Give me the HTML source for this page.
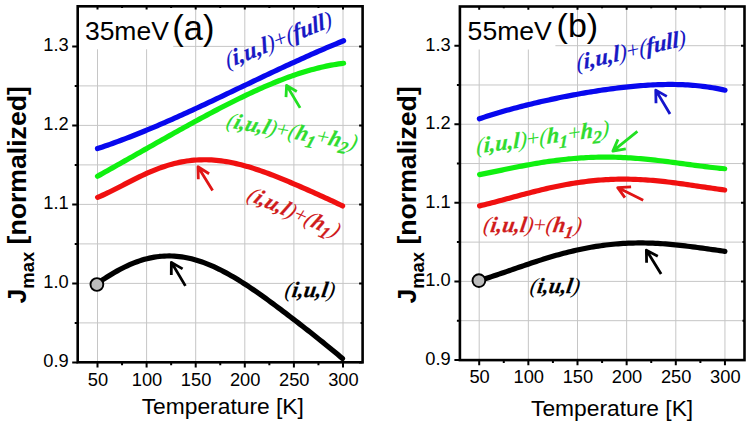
<!DOCTYPE html><html><head><meta charset="utf-8"><style>html,body{margin:0;padding:0;background:#fff;overflow:hidden}svg{display:block}</style></head><body><svg width="749" height="425" viewBox="0 0 749 425">
<rect width="749" height="425" fill="#fff"/>
<path d="M97.50,6.30V362.30 M146.60,6.30V362.30 M195.70,6.30V362.30 M244.80,6.30V362.30 M293.90,6.30V362.30 M343.00,6.30V362.30 M77.70,322.90H362.60 M77.70,283.40H362.60 M77.70,243.90H362.60 M77.70,204.40H362.60 M77.70,164.90H362.60 M77.70,125.40H362.60 M77.70,85.90H362.60 M77.70,46.40H362.60" stroke="#c6c6c6" stroke-width="1" fill="none"/>
<rect x="77.7" y="6.3" width="95.5" height="43" fill="#fff"/>
<path d="M479.20,6.50V360.10 M528.35,6.50V360.10 M577.50,6.50V360.10 M626.65,6.50V360.10 M675.80,6.50V360.10 M724.95,6.50V360.10 M459.90,320.68H744.50 M459.90,281.40H744.50 M459.90,242.11H744.50 M459.90,202.83H744.50 M459.90,163.55H744.50 M459.90,124.26H744.50 M459.90,84.97H744.50 M459.90,45.69H744.50" stroke="#c6c6c6" stroke-width="1" fill="none"/>
<rect x="459.9" y="6.5" width="95.5" height="43" fill="#fff"/>
<path d="M97.50,283.25 L99.97,281.58 L102.45,279.93 L104.92,278.32 L107.40,276.74 L109.87,275.21 L112.35,273.71 L114.82,272.27 L117.30,270.87 L119.77,269.52 L122.25,268.23 L124.72,266.99 L127.20,265.81 L129.67,264.70 L132.15,263.64 L134.62,262.65 L137.10,261.72 L139.57,260.86 L142.05,260.07 L144.52,259.34 L146.99,258.69 L149.47,258.10 L151.94,257.59 L154.42,257.14 L156.89,256.77 L159.37,256.46 L161.84,256.23 L164.32,256.07 L166.79,255.98 L169.27,255.96 L171.74,256.01 L174.22,256.13 L176.69,256.32 L179.17,256.57 L181.64,256.89 L184.12,257.28 L186.59,257.74 L189.07,258.26 L191.54,258.84 L194.02,259.49 L196.49,260.19 L198.96,260.96 L201.44,261.78 L203.91,262.66 L206.39,263.60 L208.86,264.59 L211.34,265.63 L213.81,266.72 L216.29,267.86 L218.76,269.05 L221.24,270.29 L223.71,271.57 L226.19,272.89 L228.66,274.25 L231.14,275.65 L233.61,277.09 L236.09,278.57 L238.56,280.08 L241.04,281.62 L243.51,283.19 L245.98,284.79 L248.46,286.42 L250.93,288.08 L253.41,289.76 L255.88,291.46 L258.36,293.18 L260.83,294.92 L263.31,296.69 L265.78,298.46 L268.26,300.26 L270.73,302.07 L273.21,303.89 L275.68,305.73 L278.16,307.57 L280.63,309.43 L283.11,311.30 L285.58,313.17 L288.06,315.06 L290.53,316.95 L293.01,318.85 L295.48,320.75 L297.95,322.67 L300.43,324.58 L302.90,326.51 L305.38,328.44 L307.85,330.37 L310.33,332.32 L312.80,334.27 L315.28,336.23 L317.75,338.19 L320.23,340.17 L322.70,342.15 L325.18,344.15 L327.65,346.16 L330.13,348.19 L332.60,350.23 L335.08,352.28 L337.55,354.36 L340.03,356.46 L342.50,358.58" stroke="#000" stroke-width="5.2" fill="none" stroke-linecap="round" stroke-linejoin="round"/>
<path d="M97.60,197.37 L100.07,196.34 L102.55,195.25 L105.02,194.12 L107.50,192.95 L109.97,191.74 L112.45,190.51 L114.92,189.26 L117.40,188.00 L119.87,186.72 L122.35,185.44 L124.82,184.15 L127.30,182.87 L129.77,181.60 L132.25,180.34 L134.72,179.09 L137.20,177.86 L139.67,176.66 L142.15,175.48 L144.62,174.33 L147.09,173.21 L149.57,172.12 L152.04,171.07 L154.52,170.05 L156.99,169.08 L159.47,168.15 L161.94,167.26 L164.42,166.42 L166.89,165.63 L169.37,164.88 L171.84,164.18 L174.32,163.53 L176.79,162.93 L179.27,162.38 L181.74,161.88 L184.22,161.44 L186.69,161.05 L189.17,160.71 L191.64,160.42 L194.12,160.18 L196.59,160.00 L199.06,159.86 L201.54,159.78 L204.01,159.75 L206.49,159.77 L208.96,159.84 L211.44,159.96 L213.91,160.12 L216.39,160.33 L218.86,160.59 L221.34,160.90 L223.81,161.24 L226.29,161.63 L228.76,162.06 L231.24,162.54 L233.71,163.05 L236.19,163.60 L238.66,164.18 L241.14,164.80 L243.61,165.46 L246.08,166.14 L248.56,166.86 L251.03,167.61 L253.51,168.38 L255.98,169.18 L258.46,170.01 L260.93,170.86 L263.41,171.74 L265.88,172.63 L268.36,173.55 L270.83,174.48 L273.31,175.44 L275.78,176.40 L278.26,177.39 L280.73,178.39 L283.21,179.39 L285.68,180.42 L288.16,181.45 L290.63,182.49 L293.11,183.54 L295.58,184.60 L298.05,185.67 L300.53,186.74 L303.00,187.82 L305.48,188.91 L307.95,190.00 L310.43,191.10 L312.90,192.20 L315.38,193.31 L317.85,194.42 L320.33,195.54 L322.80,196.66 L325.28,197.80 L327.75,198.93 L330.23,200.08 L332.70,201.23 L335.18,202.40 L337.65,203.57 L340.13,204.75 L342.60,205.95" stroke="#f01010" stroke-width="5.2" fill="none" stroke-linecap="round" stroke-linejoin="round"/>
<path d="M97.50,176.26 L99.99,174.87 L102.47,173.47 L104.96,172.08 L107.44,170.68 L109.93,169.28 L112.42,167.88 L114.90,166.48 L117.39,165.08 L119.87,163.68 L122.36,162.27 L124.84,160.87 L127.33,159.47 L129.82,158.06 L132.30,156.65 L134.79,155.25 L137.27,153.84 L139.76,152.43 L142.25,151.03 L144.73,149.62 L147.22,148.22 L149.70,146.81 L152.19,145.41 L154.67,144.00 L157.16,142.60 L159.65,141.20 L162.13,139.80 L164.62,138.40 L167.10,137.00 L169.59,135.61 L172.08,134.22 L174.56,132.83 L177.05,131.44 L179.53,130.06 L182.02,128.68 L184.51,127.30 L186.99,125.93 L189.48,124.56 L191.96,123.19 L194.45,121.83 L196.93,120.48 L199.42,119.13 L201.91,117.78 L204.39,116.45 L206.88,115.11 L209.36,113.79 L211.85,112.47 L214.34,111.16 L216.82,109.85 L219.31,108.55 L221.79,107.26 L224.28,105.98 L226.76,104.71 L229.25,103.45 L231.74,102.20 L234.22,100.96 L236.71,99.72 L239.19,98.50 L241.68,97.29 L244.17,96.09 L246.65,94.91 L249.14,93.73 L251.62,92.57 L254.11,91.42 L256.59,90.29 L259.08,89.17 L261.57,88.07 L264.05,86.98 L266.54,85.90 L269.02,84.84 L271.51,83.80 L274.00,82.78 L276.48,81.77 L278.97,80.78 L281.45,79.81 L283.94,78.86 L286.43,77.93 L288.91,77.02 L291.40,76.13 L293.88,75.26 L296.37,74.41 L298.85,73.59 L301.34,72.79 L303.83,72.01 L306.31,71.25 L308.80,70.52 L311.28,69.82 L313.77,69.14 L316.26,68.49 L318.74,67.87 L321.23,67.27 L323.71,66.70 L326.20,66.16 L328.68,65.65 L331.17,65.17 L333.66,64.72 L336.14,64.31 L338.63,63.92 L341.11,63.57 L343.60,63.25" stroke="#10f010" stroke-width="5.2" fill="none" stroke-linecap="round" stroke-linejoin="round"/>
<path d="M97.50,148.59 L99.99,147.76 L102.47,146.93 L104.96,146.08 L107.44,145.21 L109.93,144.34 L112.42,143.45 L114.90,142.56 L117.39,141.65 L119.87,140.73 L122.36,139.80 L124.84,138.86 L127.33,137.91 L129.82,136.95 L132.30,135.98 L134.79,134.99 L137.27,134.00 L139.76,133.01 L142.25,132.00 L144.73,130.98 L147.22,129.96 L149.70,128.92 L152.19,127.88 L154.67,126.83 L157.16,125.77 L159.65,124.71 L162.13,123.64 L164.62,122.56 L167.10,121.47 L169.59,120.38 L172.08,119.28 L174.56,118.18 L177.05,117.07 L179.53,115.95 L182.02,114.83 L184.51,113.70 L186.99,112.57 L189.48,111.43 L191.96,110.29 L194.45,109.15 L196.93,108.00 L199.42,106.84 L201.91,105.69 L204.39,104.53 L206.88,103.36 L209.36,102.20 L211.85,101.03 L214.34,99.85 L216.82,98.68 L219.31,97.50 L221.79,96.32 L224.28,95.14 L226.76,93.96 L229.25,92.77 L231.74,91.59 L234.22,90.40 L236.71,89.22 L239.19,88.03 L241.68,86.85 L244.17,85.66 L246.65,84.47 L249.14,83.29 L251.62,82.10 L254.11,80.92 L256.59,79.73 L259.08,78.55 L261.57,77.37 L264.05,76.19 L266.54,75.02 L269.02,73.84 L271.51,72.67 L274.00,71.50 L276.48,70.34 L278.97,69.17 L281.45,68.01 L283.94,66.86 L286.43,65.71 L288.91,64.56 L291.40,63.41 L293.88,62.27 L296.37,61.14 L298.85,60.01 L301.34,58.88 L303.83,57.76 L306.31,56.65 L308.80,55.54 L311.28,54.44 L313.77,53.34 L316.26,52.25 L318.74,51.17 L321.23,50.09 L323.71,49.02 L326.20,47.96 L328.68,46.90 L331.17,45.86 L333.66,44.82 L336.14,43.79 L338.63,42.76 L341.11,41.75 L343.60,40.75" stroke="#0808ee" stroke-width="5.2" fill="none" stroke-linecap="round" stroke-linejoin="round"/>
<path d="M479.20,280.59 L481.68,279.83 L484.16,279.05 L486.65,278.26 L489.13,277.46 L491.61,276.64 L494.09,275.82 L496.57,274.98 L499.05,274.14 L501.54,273.29 L504.02,272.44 L506.50,271.59 L508.98,270.73 L511.46,269.87 L513.95,269.01 L516.43,268.15 L518.91,267.30 L521.39,266.45 L523.87,265.60 L526.35,264.75 L528.84,263.92 L531.32,263.09 L533.80,262.27 L536.28,261.45 L538.76,260.65 L541.25,259.86 L543.73,259.08 L546.21,258.31 L548.69,257.55 L551.17,256.81 L553.65,256.08 L556.14,255.37 L558.62,254.67 L561.10,253.99 L563.58,253.33 L566.06,252.68 L568.55,252.05 L571.03,251.44 L573.51,250.85 L575.99,250.28 L578.47,249.73 L580.95,249.19 L583.44,248.68 L585.92,248.19 L588.40,247.72 L590.88,247.27 L593.36,246.84 L595.85,246.44 L598.33,246.06 L600.81,245.70 L603.29,245.36 L605.77,245.04 L608.25,244.75 L610.74,244.47 L613.22,244.23 L615.70,244.00 L618.18,243.80 L620.66,243.62 L623.15,243.46 L625.63,243.32 L628.11,243.21 L630.59,243.11 L633.07,243.04 L635.55,242.99 L638.04,242.96 L640.52,242.96 L643.00,242.97 L645.48,243.01 L647.96,243.06 L650.45,243.13 L652.93,243.22 L655.41,243.34 L657.89,243.47 L660.37,243.61 L662.85,243.78 L665.34,243.96 L667.82,244.15 L670.30,244.37 L672.78,244.59 L675.26,244.83 L677.75,245.09 L680.23,245.36 L682.71,245.63 L685.19,245.92 L687.67,246.22 L690.15,246.53 L692.64,246.85 L695.12,247.18 L697.60,247.51 L700.08,247.85 L702.56,248.19 L705.05,248.54 L707.53,248.89 L710.01,249.24 L712.49,249.59 L714.97,249.94 L717.45,250.29 L719.94,250.64 L722.42,250.98 L724.90,251.32" stroke="#000" stroke-width="5.2" fill="none" stroke-linecap="round" stroke-linejoin="round"/>
<path d="M479.60,205.88 L482.08,205.29 L484.55,204.69 L487.03,204.07 L489.50,203.45 L491.98,202.81 L494.45,202.17 L496.93,201.52 L499.41,200.86 L501.88,200.20 L504.36,199.53 L506.83,198.86 L509.31,198.19 L511.78,197.52 L514.26,196.85 L516.74,196.18 L519.21,195.52 L521.69,194.86 L524.16,194.20 L526.64,193.55 L529.12,192.90 L531.59,192.27 L534.07,191.64 L536.54,191.02 L539.02,190.41 L541.49,189.81 L543.97,189.22 L546.45,188.64 L548.92,188.08 L551.40,187.52 L553.87,186.99 L556.35,186.46 L558.82,185.95 L561.30,185.46 L563.78,184.98 L566.25,184.52 L568.73,184.08 L571.20,183.65 L573.68,183.25 L576.15,182.86 L578.63,182.48 L581.11,182.13 L583.58,181.80 L586.06,181.48 L588.53,181.19 L591.01,180.91 L593.48,180.66 L595.96,180.42 L598.44,180.20 L600.91,180.01 L603.39,179.83 L605.86,179.68 L608.34,179.54 L610.82,179.43 L613.29,179.34 L615.77,179.26 L618.24,179.21 L620.72,179.18 L623.19,179.16 L625.67,179.17 L628.15,179.19 L630.62,179.24 L633.10,179.30 L635.57,179.38 L638.05,179.48 L640.52,179.60 L643.00,179.74 L645.48,179.89 L647.95,180.06 L650.43,180.25 L652.90,180.45 L655.38,180.67 L657.85,180.90 L660.33,181.15 L662.81,181.41 L665.28,181.68 L667.76,181.96 L670.23,182.26 L672.71,182.57 L675.18,182.89 L677.66,183.21 L680.14,183.55 L682.61,183.89 L685.09,184.24 L687.56,184.60 L690.04,184.96 L692.52,185.33 L694.99,185.70 L697.47,186.07 L699.94,186.45 L702.42,186.82 L704.89,187.19 L707.37,187.56 L709.85,187.93 L712.32,188.30 L714.80,188.66 L717.27,189.01 L719.75,189.35 L722.22,189.69 L724.70,190.01" stroke="#f01010" stroke-width="5.2" fill="none" stroke-linecap="round" stroke-linejoin="round"/>
<path d="M479.60,174.61 L482.08,174.12 L484.55,173.63 L487.03,173.13 L489.50,172.63 L491.98,172.12 L494.45,171.61 L496.93,171.10 L499.41,170.59 L501.88,170.08 L504.36,169.57 L506.83,169.06 L509.31,168.55 L511.78,168.05 L514.26,167.55 L516.74,167.06 L519.21,166.57 L521.69,166.09 L524.16,165.61 L526.64,165.15 L529.12,164.69 L531.59,164.24 L534.07,163.80 L536.54,163.38 L539.02,162.96 L541.49,162.55 L543.97,162.16 L546.45,161.78 L548.92,161.41 L551.40,161.05 L553.87,160.71 L556.35,160.38 L558.82,160.07 L561.30,159.77 L563.78,159.48 L566.25,159.21 L568.73,158.96 L571.20,158.72 L573.68,158.50 L576.15,158.29 L578.63,158.10 L581.11,157.93 L583.58,157.78 L586.06,157.64 L588.53,157.51 L591.01,157.41 L593.48,157.32 L595.96,157.25 L598.44,157.19 L600.91,157.15 L603.39,157.13 L605.86,157.13 L608.34,157.14 L610.82,157.17 L613.29,157.21 L615.77,157.27 L618.24,157.35 L620.72,157.44 L623.19,157.55 L625.67,157.67 L628.15,157.80 L630.62,157.96 L633.10,158.12 L635.57,158.30 L638.05,158.49 L640.52,158.70 L643.00,158.92 L645.48,159.15 L647.95,159.39 L650.43,159.64 L652.90,159.90 L655.38,160.17 L657.85,160.46 L660.33,160.75 L662.81,161.04 L665.28,161.35 L667.76,161.66 L670.23,161.98 L672.71,162.30 L675.18,162.63 L677.66,162.96 L680.14,163.30 L682.61,163.63 L685.09,163.97 L687.56,164.31 L690.04,164.65 L692.52,164.98 L694.99,165.32 L697.47,165.65 L699.94,165.97 L702.42,166.29 L704.89,166.61 L707.37,166.91 L709.85,167.21 L712.32,167.50 L714.80,167.77 L717.27,168.04 L719.75,168.29 L722.22,168.53 L724.70,168.75" stroke="#10f010" stroke-width="5.2" fill="none" stroke-linecap="round" stroke-linejoin="round"/>
<path d="M479.40,118.74 L481.88,117.91 L484.36,117.10 L486.84,116.30 L489.32,115.51 L491.80,114.74 L494.28,113.98 L496.77,113.23 L499.25,112.49 L501.73,111.77 L504.21,111.06 L506.69,110.35 L509.17,109.66 L511.65,108.98 L514.13,108.32 L516.61,107.66 L519.09,107.01 L521.57,106.37 L524.05,105.74 L526.54,105.12 L529.02,104.51 L531.50,103.90 L533.98,103.31 L536.46,102.72 L538.94,102.15 L541.42,101.58 L543.90,101.02 L546.38,100.46 L548.86,99.92 L551.34,99.38 L553.82,98.85 L556.31,98.33 L558.79,97.82 L561.27,97.31 L563.75,96.82 L566.23,96.33 L568.71,95.84 L571.19,95.37 L573.67,94.90 L576.15,94.44 L578.63,93.99 L581.11,93.55 L583.59,93.11 L586.07,92.68 L588.56,92.26 L591.04,91.85 L593.52,91.45 L596.00,91.06 L598.48,90.67 L600.96,90.29 L603.44,89.93 L605.92,89.57 L608.40,89.22 L610.88,88.88 L613.36,88.55 L615.84,88.23 L618.33,87.93 L620.81,87.63 L623.29,87.34 L625.77,87.07 L628.25,86.80 L630.73,86.55 L633.21,86.31 L635.69,86.08 L638.17,85.87 L640.65,85.67 L643.13,85.48 L645.61,85.31 L648.09,85.15 L650.58,85.01 L653.06,84.88 L655.54,84.77 L658.02,84.67 L660.50,84.59 L662.98,84.53 L665.46,84.48 L667.94,84.46 L670.42,84.45 L672.90,84.46 L675.38,84.49 L677.86,84.54 L680.35,84.61 L682.83,84.71 L685.31,84.82 L687.79,84.96 L690.27,85.12 L692.75,85.31 L695.23,85.52 L697.71,85.75 L700.19,86.01 L702.67,86.30 L705.15,86.62 L707.63,86.96 L710.12,87.33 L712.60,87.73 L715.08,88.16 L717.56,88.62 L720.04,89.12 L722.52,89.64 L725.00,90.20" stroke="#0808ee" stroke-width="5.2" fill="none" stroke-linecap="round" stroke-linejoin="round"/>
<path d="M185.4,285.9L171.36,262.34M171.3,275.0L171.36,262.34L182.6,268.9" stroke="#000" stroke-width="2.8" fill="none" stroke-linecap="butt" stroke-linejoin="round"/>
<path d="M212.6,190.6L197.97,166.74M198.3,179.3L197.97,166.74L209.1,173.7" stroke="#e01515" stroke-width="2.8" fill="none" stroke-linecap="butt" stroke-linejoin="round"/>
<path d="M300.1,107.9L286.57,85.34M286.0,97.1L286.57,85.34L296.8,91.5" stroke="#22e022" stroke-width="2.8" fill="none" stroke-linecap="butt" stroke-linejoin="round"/>
<path d="M670.0,114.0L655.76,90.14M656.0,103.2L655.76,90.14L666.8,96.4" stroke="#1515cc" stroke-width="2.8" fill="none" stroke-linecap="butt" stroke-linejoin="round"/>
<path d="M637.4,131.3L612.86,151.11M618.0,139.4L612.86,151.11L625.8,148.9" stroke="#22e022" stroke-width="2.8" fill="none" stroke-linecap="butt" stroke-linejoin="round"/>
<path d="M643.2,200.3L617.68,187.59M631.1,186.8L617.68,187.59L624.9,197.6" stroke="#e01515" stroke-width="2.8" fill="none" stroke-linecap="butt" stroke-linejoin="round"/>
<path d="M661.1,273.9L646.38,250.14M646.6,262.8L646.38,250.14L657.8,256.2" stroke="#000" stroke-width="2.8" fill="none" stroke-linecap="butt" stroke-linejoin="round"/>
<circle cx="96.9" cy="284.5" r="6.4" fill="#bcbcbc" stroke="#000" stroke-width="1.9"/>
<circle cx="478.9" cy="280.6" r="6.4" fill="#bcbcbc" stroke="#000" stroke-width="1.9"/>
<path d="M97.50,362.30v5.2 M97.50,6.30v3.2 M146.60,362.30v5.2 M146.60,6.30v3.2 M195.70,362.30v5.2 M195.70,6.30v3.2 M244.80,362.30v5.2 M244.80,6.30v3.2 M293.90,362.30v5.2 M293.90,6.30v3.2 M343.00,362.30v5.2 M343.00,6.30v3.2 M122.05,362.30v3 M122.05,6.30v1.8 M171.15,362.30v3 M171.15,6.30v1.8 M220.25,362.30v3 M220.25,6.30v1.8 M269.35,362.30v3 M269.35,6.30v1.8 M318.45,362.30v3 M318.45,6.30v1.8 M77.70,362.40h-5.5 M362.60,362.40h-3.5 M77.70,283.40h-5.5 M362.60,283.40h-3.5 M77.70,204.40h-5.5 M362.60,204.40h-3.5 M77.70,125.40h-5.5 M362.60,125.40h-3.5 M77.70,46.40h-5.5 M362.60,46.40h-3.5 M77.70,322.90h-3 M362.60,322.90h-2 M77.70,243.90h-3 M362.60,243.90h-2 M77.70,164.90h-3 M362.60,164.90h-2 M77.70,85.90h-3 M362.60,85.90h-2" stroke="#000" stroke-width="2" fill="none"/>
<rect x="77.70" y="6.30" width="284.90" height="356.00" fill="none" stroke="#000" stroke-width="2.6"/>
<path d="M479.20,360.10v5.2 M479.20,6.50v3.2 M528.35,360.10v5.2 M528.35,6.50v3.2 M577.50,360.10v5.2 M577.50,6.50v3.2 M626.65,360.10v5.2 M626.65,6.50v3.2 M675.80,360.10v5.2 M675.80,6.50v3.2 M724.95,360.10v5.2 M724.95,6.50v3.2 M503.77,360.10v3 M503.77,6.50v1.8 M552.92,360.10v3 M552.92,6.50v1.8 M602.08,360.10v3 M602.08,6.50v1.8 M651.23,360.10v3 M651.23,6.50v1.8 M700.38,360.10v3 M700.38,6.50v1.8 M459.90,359.97h-5.5 M744.50,359.97h-3.5 M459.90,281.40h-5.5 M744.50,281.40h-3.5 M459.90,202.83h-5.5 M744.50,202.83h-3.5 M459.90,124.26h-5.5 M744.50,124.26h-3.5 M459.90,45.69h-5.5 M744.50,45.69h-3.5 M459.90,320.69h-3 M744.50,320.69h-2 M459.90,242.11h-3 M744.50,242.11h-2 M459.90,163.55h-3 M744.50,163.55h-2 M459.90,84.97h-3 M744.50,84.97h-2" stroke="#000" stroke-width="2" fill="none"/>
<rect x="459.90" y="6.50" width="284.60" height="353.60" fill="none" stroke="#000" stroke-width="2.6"/>
<text x="68.7" y="367.40" text-anchor="end" style="font-family:'Liberation Sans',sans-serif;font-size:18.3px">0.9</text>
<text x="68.7" y="288.40" text-anchor="end" style="font-family:'Liberation Sans',sans-serif;font-size:18.3px">1.0</text>
<text x="68.7" y="209.40" text-anchor="end" style="font-family:'Liberation Sans',sans-serif;font-size:18.3px">1.1</text>
<text x="68.7" y="130.40" text-anchor="end" style="font-family:'Liberation Sans',sans-serif;font-size:18.3px">1.2</text>
<text x="68.7" y="51.40" text-anchor="end" style="font-family:'Liberation Sans',sans-serif;font-size:18.3px">1.3</text>
<text x="97.90" y="385.7" text-anchor="middle" style="font-family:'Liberation Sans',sans-serif;font-size:18.3px">50</text>
<text x="147.00" y="385.7" text-anchor="middle" style="font-family:'Liberation Sans',sans-serif;font-size:18.3px">100</text>
<text x="196.10" y="385.7" text-anchor="middle" style="font-family:'Liberation Sans',sans-serif;font-size:18.3px">150</text>
<text x="245.20" y="385.7" text-anchor="middle" style="font-family:'Liberation Sans',sans-serif;font-size:18.3px">200</text>
<text x="294.30" y="385.7" text-anchor="middle" style="font-family:'Liberation Sans',sans-serif;font-size:18.3px">250</text>
<text x="343.40" y="385.7" text-anchor="middle" style="font-family:'Liberation Sans',sans-serif;font-size:18.3px">300</text>
<text x="450.7" y="364.97" text-anchor="end" style="font-family:'Liberation Sans',sans-serif;font-size:18.3px">0.9</text>
<text x="450.7" y="286.40" text-anchor="end" style="font-family:'Liberation Sans',sans-serif;font-size:18.3px">1.0</text>
<text x="450.7" y="207.83" text-anchor="end" style="font-family:'Liberation Sans',sans-serif;font-size:18.3px">1.1</text>
<text x="450.7" y="129.26" text-anchor="end" style="font-family:'Liberation Sans',sans-serif;font-size:18.3px">1.2</text>
<text x="450.7" y="50.69" text-anchor="end" style="font-family:'Liberation Sans',sans-serif;font-size:18.3px">1.3</text>
<text x="479.60" y="383.4" text-anchor="middle" style="font-family:'Liberation Sans',sans-serif;font-size:18.3px">50</text>
<text x="528.75" y="383.4" text-anchor="middle" style="font-family:'Liberation Sans',sans-serif;font-size:18.3px">100</text>
<text x="577.90" y="383.4" text-anchor="middle" style="font-family:'Liberation Sans',sans-serif;font-size:18.3px">150</text>
<text x="627.05" y="383.4" text-anchor="middle" style="font-family:'Liberation Sans',sans-serif;font-size:18.3px">200</text>
<text x="676.20" y="383.4" text-anchor="middle" style="font-family:'Liberation Sans',sans-serif;font-size:18.3px">250</text>
<text x="725.35" y="383.4" text-anchor="middle" style="font-family:'Liberation Sans',sans-serif;font-size:18.3px">300</text>
<text x="141.7" y="413.9" style="font-family:'Liberation Sans',sans-serif;font-size:22.8px">Temperature [K]</text>
<text x="531.0" y="415.9" style="font-family:'Liberation Sans',sans-serif;font-size:22.8px">Temperature [K]</text>
<text transform="translate(25.8,303.5) rotate(-90) scale(1.025,1)" style="font-family:'Liberation Sans',sans-serif;font-size:26.0px;font-weight:bold">J<tspan dy="8.06" style="font-size:17.94px">max</tspan><tspan dy="-8.06"> [normalized]</tspan></text>
<text transform="translate(415.5,303.6) rotate(-90) scale(1.025,1)" style="font-family:'Liberation Sans',sans-serif;font-size:26.0px;font-weight:bold">J<tspan dy="8.06" style="font-size:17.94px">max</tspan><tspan dy="-8.06"> [normalized]</tspan></text>
<text x="84.9" y="39.9" style="font-family:'Liberation Sans',sans-serif;font-size:26.5px">35meV</text>
<text x="172.3" y="40.1" style="font-family:'Liberation Sans',sans-serif;font-size:34.5px">(a)</text>
<text x="467.6" y="39.5" style="font-family:'Liberation Sans',sans-serif;font-size:26.6px">55meV</text>
<text x="556.6" y="36.6" style="font-family:'Liberation Sans',sans-serif;font-size:34px">(b)</text>
<text transform="translate(283.90,297.05) rotate(0) skewX(-9)" fill="#000" stroke="#000" stroke-width="0.25" style="font-family:'Liberation Serif',serif;font-weight:bold;font-style:italic;font-size:22.1px"><tspan style="font-weight:normal;stroke-width:0;">(</tspan><tspan>i,u,l</tspan><tspan style="font-weight:normal;stroke-width:0;">)</tspan></text>
<text transform="translate(529.25,292.95) rotate(0) skewX(-9)" fill="#000" stroke="#000" stroke-width="0.25" style="font-family:'Liberation Serif',serif;font-weight:bold;font-style:italic;font-size:21.8px"><tspan style="font-weight:normal;stroke-width:0;">(</tspan><tspan>i,u,l</tspan><tspan style="font-weight:normal;stroke-width:0;">)</tspan></text>
<text transform="translate(482.50,232.00) rotate(0) skewX(-9)" fill="#d01c1c" stroke="#d01c1c" stroke-width="0.25" style="font-family:'Liberation Serif',serif;font-weight:bold;font-style:italic;font-size:22.0px"><tspan style="font-weight:normal;stroke-width:0;">(</tspan><tspan>i,u,l</tspan><tspan style="font-weight:normal;stroke-width:0;">)</tspan><tspan style="font-weight:normal;font-style:normal;stroke-width:0;">+</tspan><tspan style="font-weight:normal;stroke-width:0;">(</tspan><tspan>h</tspan><tspan dy="5.94" style="font-size:17.6px;">1</tspan><tspan dy="-5.94" style="font-weight:normal;stroke-width:0;">)</tspan></text>
<text transform="translate(245.80,199.25) rotate(23) skewX(-9)" fill="#d01c1c" stroke="#d01c1c" stroke-width="0.25" style="font-family:'Liberation Serif',serif;font-weight:bold;font-style:italic;font-size:21.8px"><tspan style="font-weight:normal;stroke-width:0;">(</tspan><tspan>i,u,l</tspan><tspan style="font-weight:normal;stroke-width:0;">)</tspan><tspan style="font-weight:normal;font-style:normal;stroke-width:0;">+</tspan><tspan style="font-weight:normal;stroke-width:0;">(</tspan><tspan>h</tspan><tspan dy="5.89" style="font-size:17.44px;">1</tspan><tspan dy="-5.89" style="font-weight:normal;stroke-width:0;">)</tspan></text>
<text transform="translate(225.20,127.05) rotate(9.8) skewX(-9)" fill="#30dc30" stroke="#30dc30" stroke-width="0.25" style="font-family:'Liberation Serif',serif;font-weight:bold;font-style:italic;font-size:22.0px"><tspan style="font-weight:normal;stroke-width:0;">(</tspan><tspan>i,u,l</tspan><tspan style="font-weight:normal;stroke-width:0;">)</tspan><tspan style="font-weight:normal;font-style:normal;stroke-width:0;">+</tspan><tspan style="font-weight:normal;stroke-width:0;">(</tspan><tspan>h</tspan><tspan dy="5.94" style="font-size:17.6px;">1</tspan><tspan dy="-5.94" style="font-weight:normal;font-style:normal;stroke-width:0;">+</tspan><tspan>h</tspan><tspan dy="5.94" style="font-size:17.6px;">2</tspan><tspan dy="-5.94" style="font-weight:normal;stroke-width:0;">)</tspan></text>
<text transform="translate(476.25,153.50) rotate(-7.8) skewX(-9)" fill="#30dc30" stroke="#30dc30" stroke-width="0.25" style="font-family:'Liberation Serif',serif;font-weight:bold;font-style:italic;font-size:22.4px"><tspan style="font-weight:normal;stroke-width:0;">(</tspan><tspan>i,u,l</tspan><tspan style="font-weight:normal;stroke-width:0;">)</tspan><tspan style="font-weight:normal;font-style:normal;stroke-width:0;">+</tspan><tspan style="font-weight:normal;stroke-width:0;">(</tspan><tspan>h</tspan><tspan dy="6.05" style="font-size:17.92px;">1</tspan><tspan dy="-6.05" style="font-weight:normal;font-style:normal;stroke-width:0;">+</tspan><tspan>h</tspan><tspan dy="6.05" style="font-size:17.92px;">2</tspan><tspan dy="-6.05" style="font-weight:normal;stroke-width:0;">)</tspan></text>
<text transform="translate(227.45,68.45) rotate(-22) skewX(-9)" fill="#1818c4" stroke="#1818c4" stroke-width="0.25" style="font-family:'Liberation Serif',serif;font-weight:bold;font-style:italic;font-size:23.0px"><tspan style="font-weight:normal;stroke-width:0;">(</tspan><tspan>i,u,l</tspan><tspan style="font-weight:normal;stroke-width:0;">)</tspan><tspan style="font-weight:normal;font-style:normal;stroke-width:0;">+</tspan><tspan style="font-weight:normal;stroke-width:0;">(</tspan><tspan>full</tspan><tspan style="font-weight:normal;stroke-width:0;">)</tspan></text>
<text transform="translate(577.00,70.80) rotate(-13.3) skewX(-9)" fill="#1818c4" stroke="#1818c4" stroke-width="0.25" style="font-family:'Liberation Serif',serif;font-weight:bold;font-style:italic;font-size:22.7px"><tspan style="font-weight:normal;stroke-width:0;">(</tspan><tspan>i,u,l</tspan><tspan style="font-weight:normal;stroke-width:0;">)</tspan><tspan style="font-weight:normal;font-style:normal;stroke-width:0;">+</tspan><tspan style="font-weight:normal;stroke-width:0;">(</tspan><tspan>full</tspan><tspan style="font-weight:normal;stroke-width:0;">)</tspan></text>
</svg></body></html>
